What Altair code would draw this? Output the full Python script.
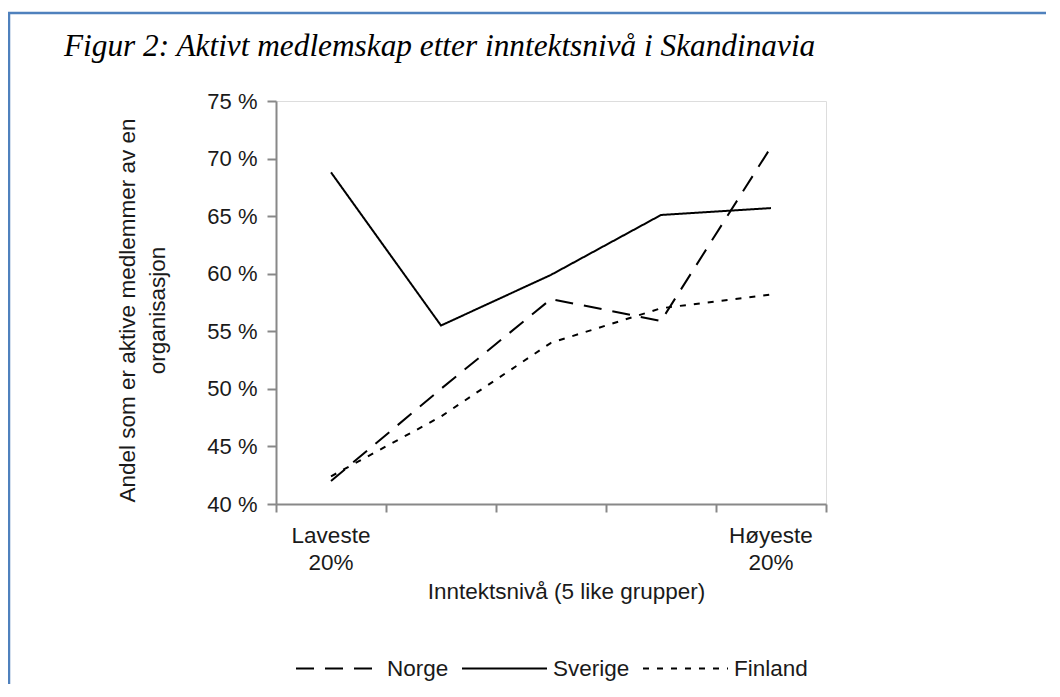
import altair as alt
import pandas as pd

# ---- data ----
categories = [1, 2, 3, 4, 5]
norge = [42.0, 50.0, 57.8, 55.9, 71.0]
sverige = [68.8, 55.5, 59.9, 65.1, 65.7]
finland = [42.4, 47.6, 54.0, 57.0, 58.2]
series_names = ["Norge", "Sverige", "Finland"]
y_ticks = [40, 45, 50, 55, 60, 65, 70, 75]
x_edges = [0.5, 1.5, 2.5, 3.5, 4.5, 5.5]
end_positions = [1, 5]
end_labels = ["Laveste\n20%", "Høyeste\n20%"]

title_text = "Figur 2: Aktivt medlemskap etter inntektsnivå i Skandinavia"
y_title = ["Andel som er aktive medlemmer av en", "organisasjon"]
x_title = "Inntektsnivå (5 like grupper)"

rows = []
for name, vals in zip(series_names, [norge, sverige, finland]):
    for c, v in zip(categories, vals):
        rows.append({"gruppe": c, "andel": v, "land": name})
df = pd.DataFrame(rows)
lab_df = pd.DataFrame({"gruppe": end_positions, "label": end_labels})
title_df = pd.DataFrame({"t": [title_text]})

FONT = "Liberation Sans"
GRAY = "#888888"
TXT = "#1a1a1a"
FS = 22.5

x_scale = alt.Scale(domain=[0.5, 5.5], nice=False, zero=False)
y_scale = alt.Scale(domain=[40, 75], nice=False, zero=False)

lines = alt.Chart(df).mark_line(strokeWidth=2, color="#000000").encode(
    x=alt.X("gruppe:Q", scale=x_scale,
            axis=alt.Axis(values=x_edges, labels=False, grid=False, tickSize=8,
                          tickWidth=2, tickColor=GRAY, domainColor=GRAY, domainWidth=2,
                          title=x_title, titleFont=FONT, titleFontSize=FS,
                          titleFontWeight="normal", titleColor=TXT, titlePadding=67,
                          titleX=290, titleAlign="center")),
    y=alt.Y("andel:Q", scale=y_scale,
            axis=alt.Axis(values=y_ticks, labelExpr="datum.value + ' %'", grid=False,
                          tickSize=9, tickWidth=2, tickColor=GRAY, domainColor=GRAY,
                          domainWidth=2, labelFont=FONT, labelFontSize=22,
                          labelColor=TXT, labelPadding=10,
                          title=y_title, titleFont=FONT, titleFontSize=FS,
                          titleFontWeight="normal", titleColor=TXT,
                          titleLineHeight=30, titlePadding=37, titleY=209)),
    strokeDash=alt.StrokeDash(
        "land:N",
        scale=alt.Scale(domain=series_names, range=[[18, 11], [1, 0], [6, 8]]),
        legend=alt.Legend(orient="none", legendX=19, legendY=524,
                          direction="horizontal", title=None, symbolType="stroke",
                          symbolSize=7225, symbolStrokeWidth=2,
                          symbolStrokeColor="#000000", labelFont=FONT,
                          labelFontSize=FS, labelColor=TXT, labelOffset=5,
                          columnPadding=9, padding=0)),
)

end_text = alt.Chart(lab_df).mark_text(
    lineBreak="\n", font=FONT, fontSize=FS, color=TXT, baseline="top",
    lineHeight=27, align="center"
).encode(
    x=alt.X("gruppe:Q", scale=x_scale),
    y=alt.value(424),
    text="label:N",
)

title_mark = alt.Chart(title_df).mark_text(
    font="Liberation Serif", fontStyle="italic", fontSize=31.3, color="#000000",
    align="left", baseline="alphabetic"
).encode(x=alt.value(-212), y=alt.value(-45), text="t:N")

border_df = pd.DataFrame({"k": [0]})
border_left = alt.Chart(border_df).mark_rule(color="#4f81bd", strokeWidth=2.5).encode(
    x=alt.value(-267), y=alt.value(-88), y2=alt.value(600))
border_top = alt.Chart(border_df).mark_rule(color="#4f81bd", strokeWidth=2.5).encode(
    x=alt.value(-268), x2=alt.value(800), y=alt.value(-88))

chart = alt.layer(lines, end_text, title_mark, border_left, border_top).properties(
    width=550, height=403,
    padding={"left": 268, "top": 93, "right": 220, "bottom": 180},
    autosize=alt.AutoSizeParams(type="none"),
).configure_view(stroke=GRAY, strokeWidth=2).configure(background="white")

chart.save("out.html", embed_options={"renderer": "svg", "actions": False})
